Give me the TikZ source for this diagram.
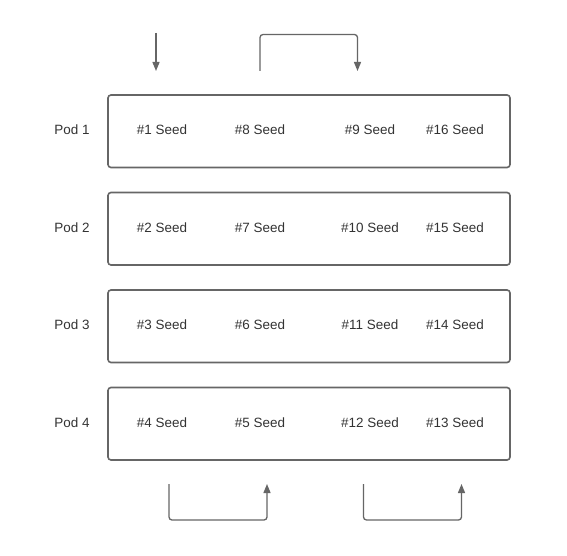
\documentclass[tikz,border=0pt]{standalone}
\usepackage{fontspec}
\setmainfont{Liberation Sans}
\usetikzlibrary{arrows.meta}
\definecolor{linegray}{HTML}{666666}
\definecolor{textgray}{HTML}{333333}
\begin{document}
\begin{tikzpicture}[x=1bp,y=-1bp,
  podbox/.style={draw=linegray,line width=1.6bp,rounded corners=3bp},
  lbl/.style={font=\fontsize{13.5}{15}\selectfont,text=textgray,inner sep=0pt},
  conn/.style={draw=linegray,line width=1.3bp,rounded corners=3bp,-{Triangle[length=9bp,width=7bp]}}]
\useasboundingbox[fill=white] (0,0) rectangle (567,556);
% pods
\foreach \i/\y in {1/95,2/192.5,3/290,4/387.5}{
  \draw[podbox] (108,\y) rectangle (510,\y+72.5);
  \node[lbl] (pod\i) at (72,\y+35) {Pod \i};
}
\node[lbl] (s1) at (162,130) {\#1 Seed};
\node[lbl] (s8) at (260,130) {\#8 Seed};
\node[lbl] (s9) at (370,130) {\#9 Seed};
\node[lbl] (s16) at (455,130) {\#16 Seed};
\node[lbl] (s2) at (162,227.5) {\#2 Seed};
\node[lbl] (s7) at (260,227.5) {\#7 Seed};
\node[lbl] (s10) at (370,227.5) {\#10 Seed};
\node[lbl] (s15) at (455,227.5) {\#15 Seed};
\node[lbl] (s3) at (162,325) {\#3 Seed};
\node[lbl] (s6) at (260,325) {\#6 Seed};
\node[lbl] (s11) at (370,325) {\#11 Seed};
\node[lbl] (s14) at (455,325) {\#14 Seed};
\node[lbl] (s4) at (162,422.5) {\#4 Seed};
\node[lbl] (s5) at (260,422.5) {\#5 Seed};
\node[lbl] (s12) at (370,422.5) {\#12 Seed};
\node[lbl] (s13) at (455,422.5) {\#13 Seed};
% arrows
\coordinate (a1s) at (156,33);
\coordinate (a1e) at (156,71);
\coordinate (a2s) at (260,71);
\coordinate (a2e) at (357.5,71);
\coordinate (b1s) at (169,484);
\coordinate (b1e) at (267,484);
\coordinate (b2s) at (363.5,484);
\coordinate (b2e) at (461.5,484);
\draw[conn] (a1s) -- (a1e);
\draw[conn] (a2s) -- (260,34.5) -- (357.5,34.5) -- (a2e);
\draw[conn] (b1s) -- (169,520) -- (267,520) -- (b1e);
\draw[conn] (b2s) -- (363.5,520) -- (461.5,520) -- (b2e);
\end{tikzpicture}
\end{document}
